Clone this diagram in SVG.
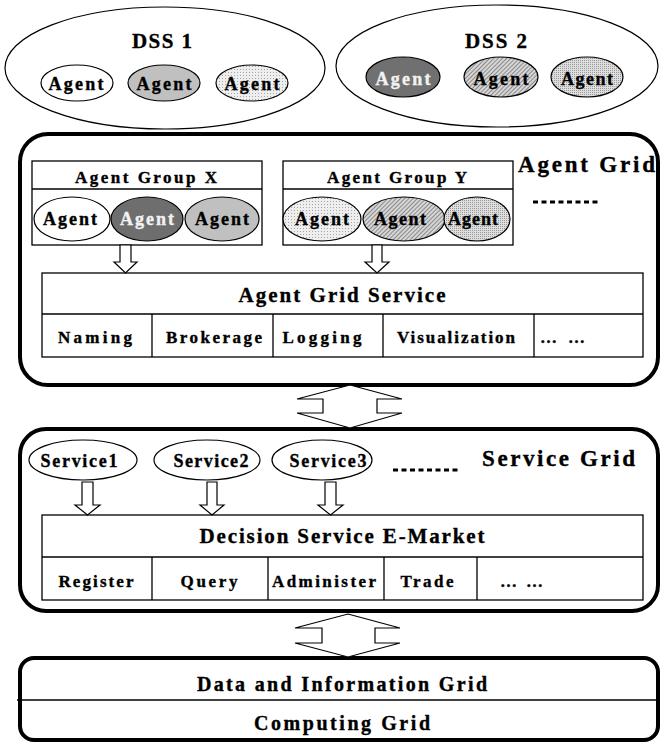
<svg xmlns="http://www.w3.org/2000/svg" width="661" height="744" viewBox="0 0 661 744">
  <defs>
    <!-- fill textures for agent ellipses -->
    <pattern id="dotLight" width="3" height="3" patternUnits="userSpaceOnUse">
      <rect width="3" height="3" fill="#eeeeee"/>
      <rect width="1" height="1" fill="#a6a6a6"/>
    </pattern>
    <pattern id="hatch" width="3" height="3" patternUnits="userSpaceOnUse" patternTransform="rotate(45)">
      <rect width="3" height="3" fill="#d6d6d6"/>
      <rect width="1" height="3" fill="#8a8a8a"/>
    </pattern>
    <pattern id="dotDense" width="2" height="2" patternUnits="userSpaceOnUse">
      <rect width="2" height="2" fill="#dedede"/>
      <rect width="1" height="1" fill="#999999"/>
    </pattern>
    <style>
      text { font-family: "Liberation Serif", "Times New Roman", serif; font-weight: bold; fill: #000; stroke: #000; stroke-width: 0.35; }
      .t20 { font-size: 21px; text-anchor: middle; }
      .t22 { font-size: 23px; }
      .ag { font-size: 18px; text-anchor: middle; }
      .agw { font-size: 18px; text-anchor: middle; fill: #f2f2f2; stroke: #f2f2f2; }
      .t16 { font-size: 17px; text-anchor: middle; }
      .t16s { font-size: 17px; }
      .t19 { font-size: 20px; text-anchor: middle; }
      .oval { stroke: #000; stroke-width: 1.2; }
      .grid { fill: #fff; stroke: #000; stroke-width: 4; }
      .box { fill: #fff; stroke: #000; stroke-width: 1.3; }
      .rule { stroke: #000; stroke-width: 1.3; fill: none; }
      .arrow { fill: #fff; stroke: #000; stroke-width: 1.2; stroke-linejoin: miter; }
      .more { stroke: #000; stroke-width: 3; stroke-dasharray: 5 3.5; fill: none; }
    </style>
  </defs>

  <!-- DSS 1 -->
  <g id="dss1">
    <ellipse cx="165" cy="68" rx="160" ry="61" fill="#fff" class="oval"/>
    <text class="t20" x="162" y="48" textLength="60">DSS 1</text>
    <ellipse cx="77" cy="83" rx="36" ry="18" fill="#fff" class="oval"/>
    <text class="ag" x="76" y="90" textLength="55">Agent</text>
    <ellipse cx="164" cy="83" rx="36" ry="18" fill="#c0c0c0" class="oval"/>
    <text class="ag" x="164" y="90" textLength="55">Agent</text>
    <ellipse cx="252" cy="83" rx="36" ry="18" fill="url(#dotLight)" class="oval"/>
    <text class="ag" x="252" y="90" textLength="55">Agent</text>
  </g>

  <!-- DSS 2 -->
  <g id="dss2">
    <ellipse cx="497" cy="66" rx="161" ry="61" fill="#fff" class="oval"/>
    <text class="t20" x="496" y="48" textLength="62">DSS 2</text>
    <ellipse cx="403" cy="77" rx="37" ry="20" fill="#707070" class="oval"/>
    <text class="agw" x="403" y="85" textLength="55">Agent</text>
    <ellipse cx="501" cy="77" rx="37" ry="20" fill="url(#hatch)" class="oval"/>
    <text class="ag" x="501" y="85" textLength="55">Agent</text>
    <ellipse cx="587" cy="77" rx="36" ry="20" fill="url(#dotDense)" class="oval"/>
    <text class="ag" x="587" y="85" textLength="52">Agent</text>
  </g>

  <!-- Agent Grid layer -->
  <g id="agent-grid">
    <rect x="20" y="134" width="638" height="251" rx="28" class="grid"/>
    <text class="t22" x="518" y="172" textLength="137">Agent Grid</text>
    <line x1="533" y1="202" x2="598" y2="202" class="more"/>
  </g>

  <g id="agent-group-x">
    <rect x="32" y="161" width="230" height="84" class="box"/>
    <line x1="32" y1="189" x2="262" y2="189" class="rule"/>
    <text class="t16" x="146" y="183" textLength="142">Agent Group X</text>
    <ellipse cx="72" cy="219" rx="38" ry="22" fill="#fff" class="oval"/>
    <text class="ag" x="70" y="225" textLength="54">Agent</text>
    <ellipse cx="147" cy="219" rx="36" ry="22" fill="#6e6e6e" class="oval"/>
    <text class="agw" x="147" y="225" textLength="54">Agent</text>
    <ellipse cx="222" cy="219" rx="37" ry="22" fill="#c0c0c0" class="oval"/>
    <text class="ag" x="222" y="225" textLength="54">Agent</text>
  </g>

  <g id="agent-group-y">
    <rect x="283" y="161" width="230" height="84" class="box"/>
    <line x1="283" y1="189" x2="513" y2="189" class="rule"/>
    <text class="t16" x="397" y="183" textLength="140">Agent Group Y</text>
    <ellipse cx="322" cy="219" rx="39" ry="22" fill="url(#dotLight)" class="oval"/>
    <text class="ag" x="322" y="225" textLength="54">Agent</text>
    <ellipse cx="404" cy="219" rx="41" ry="22" fill="url(#hatch)" class="oval"/>
    <text class="ag" x="400" y="225" textLength="52">Agent</text>
    <ellipse cx="477" cy="219" rx="33" ry="22" fill="url(#dotDense)" class="oval"/>
    <text class="ag" x="473" y="225" textLength="50">Agent</text>
  </g>

  <g id="agent-grid-service">
    <rect x="42" y="273" width="601" height="84" class="box"/>
    <line x1="42" y1="314" x2="643" y2="314" class="rule"/>
    <path d="M152 314V357M273 314V357M383 314V357M534 314V357" class="rule"/>
    <text class="t20" x="342" y="302" textLength="207">Agent Grid Service</text>
    <text class="t16" x="95" y="343" textLength="74">Naming</text>
    <text class="t16" x="214" y="343" textLength="96">Brokerage</text>
    <text class="t16" x="322" y="343" textLength="79">Logging</text>
    <text class="t16" x="456" y="343" textLength="118">Visualization</text>
    <text class="t16s" x="540" y="343" textLength="45">… …</text>
  </g>

  <!-- Service Grid layer -->
  <g id="service-grid">
    <rect x="20" y="429" width="638" height="182" rx="26" class="grid"/>
    <text class="t22" x="482" y="466" textLength="153">Service Grid</text>
    <line x1="393" y1="470" x2="459" y2="470" class="more"/>
  </g>

  <g id="service1">
    <ellipse cx="83" cy="460" rx="54" ry="20" fill="#fff" class="oval"/>
    <text class="ag" x="79" y="467" textLength="77">Service1</text>
  </g>
  <g id="service2">
    <ellipse cx="207" cy="460" rx="53" ry="20" fill="#fff" class="oval"/>
    <text class="ag" x="211" y="467" textLength="75">Service2</text>
  </g>
  <g id="service3">
    <ellipse cx="322" cy="460" rx="50" ry="20" fill="#fff" class="oval"/>
    <text class="ag" x="328" y="467" textLength="77">Service3</text>
  </g>

  <g id="decision-service-emarket">
    <rect x="42" y="515" width="601" height="85" class="box"/>
    <line x1="42" y1="557" x2="643" y2="557" class="rule"/>
    <path d="M152 557V600M268 557V600M384 557V600M477 557V600" class="rule"/>
    <text class="t20" x="342" y="543" textLength="285">Decision Service E-Market</text>
    <text class="t16" x="96" y="587" textLength="75">Register</text>
    <text class="t16" x="209" y="587" textLength="57">Query</text>
    <text class="t16" x="324" y="587" textLength="104">Administer</text>
    <text class="t16" x="427" y="587" textLength="53">Trade</text>
    <text class="t16s" x="500" y="587" textLength="43">… …</text>
  </g>

  <!-- base layers -->
  <g id="data-computing-grid">
    <rect x="20" y="658" width="638" height="82" rx="14" class="grid"/>
    <line x1="17" y1="700" x2="660" y2="700" class="rule"/>
    <text class="t19" x="342" y="691" textLength="290">Data and Information Grid</text>
    <text class="t19" x="342" y="730" textLength="176">Computing Grid</text>
  </g>

  <!-- block arrows between layers and components -->
  <g id="connectors">
    <polygon class="arrow" points="120,245 131,245 131,262 137,262 125.5,273 114,262 120,262"/>
    <polygon class="arrow" points="372,245 382,245 382,262 389,262 377,273 365,262 372,262"/>
    <polygon class="arrow" points="82,482 93,482 93,505 100,505 87.5,515 75,505 82,505"/>
    <polygon class="arrow" points="207,482 217,482 217,505 224,505 212,515 200,505 207,505"/>
    <polygon class="arrow" points="325,482 336,482 336,505 343,505 330.5,515 318,505 325,505"/>
    <polygon class="arrow" points="350,385 402,399 377,399 377,413 402,413 350,428 297,413 323,413 323,399 297,399"/>
    <polygon class="arrow" points="348,614 400,628 375,628 375,643 400,643 348,657 295,643 322,643 322,628 295,628"/>
  </g>
</svg>
